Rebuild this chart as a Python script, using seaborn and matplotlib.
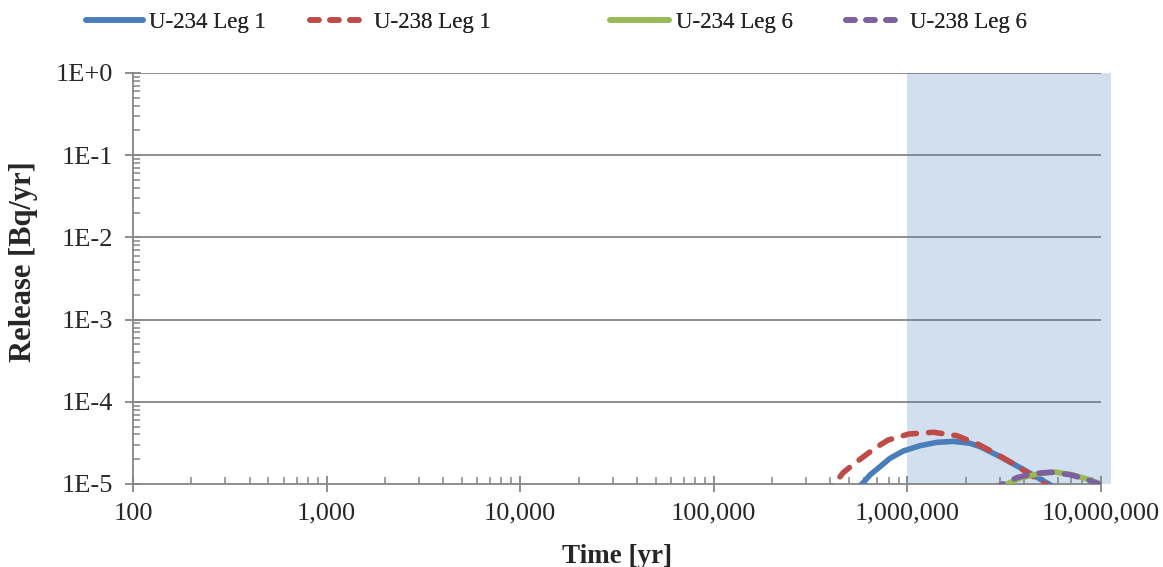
import numpy as np
import pandas as pd
import matplotlib
matplotlib.use("Agg")
import matplotlib.pyplot as plt
import matplotlib.ticker as mticker
from matplotlib.lines import Line2D
import seaborn as sns

# Release curves (time in years, release in Bq/yr)
u234_leg1_t = [4.9e5, 5.83e5, 6.41e5, 7.21e5, 8.12e5, 9.52e5, 1.16e6, 1.42e6, 1.73e6,
               2.10e6, 2.37e6, 3.01e6, 3.82e6, 4.84e6, 5.46e6, 6.3e6]
u234_leg1_r = [7.0e-6, 1.0e-5, 1.29e-5, 1.62e-5, 2.05e-5, 2.52e-5, 2.92e-5, 3.21e-5, 3.30e-5,
               3.13e-5, 2.85e-5, 2.15e-5, 1.58e-5, 1.15e-5, 9.8e-6, 7.8e-6]

u238_leg1_t = [3.6e5, 4.2e5, 4.64e5, 5.26e5, 6.79e5, 7.96e5, 1.02e6, 1.36e6, 1.80e6,
               2.32e6, 2.95e6, 3.74e6, 4.74e6, 5.2e6, 6.0e6]
u238_leg1_r = [7.5e-6, 1.0e-5, 1.36e-5, 1.74e-5, 2.72e-5, 3.43e-5, 4.06e-5, 4.26e-5, 3.87e-5,
               3.04e-5, 2.25e-5, 1.62e-5, 1.12e-5, 9.8e-6, 8.2e-6]

u234_leg6_t = [2.8e6, 3.27e6, 3.82e6, 4.67e6, 5.78e6, 7.16e6, 8.77e6, 1.0e7]
u234_leg6_r = [8.6e-6, 1.0e-5, 1.18e-5, 1.32e-5, 1.4e-5, 1.29e-5, 1.12e-5, 1.0e-5]

u238_leg6_t = [2.7e6, 3.1e6, 3.7e6, 4.5e6, 5.5e6, 6.9e6, 8.5e6, 1.0e7]
u238_leg6_r = [8.6e-6, 1.0e-5, 1.2e-5, 1.34e-5, 1.39e-5, 1.3e-5, 1.13e-5, 9.8e-6]

series_names = ["U-234 Leg 1", "U-238 Leg 1", "U-234 Leg 6", "U-238 Leg 6"]
series_colors = ["#4A7EBB", "#BE4B48", "#98B954", "#7D60A0"]
series_dashed = [False, True, False, True]

x_ticks = [1e2, 1e3, 1e4, 1e5, 1e6, 1e7]
x_tick_labels = ["100", "1,000", "10,000", "100,000", "1,000,000", "10,000,000"]
y_ticks = [1e-5, 1e-4, 1e-3, 1e-2, 1e-1, 1e0]
y_tick_labels = ["1E-5", "1E-4", "1E-3", "1E-2", "1E-1", "1E+0"]

shade_start, shade_end = 1e6, 1.13e7

frames = []
for name, t, r in zip(series_names,
                      [u234_leg1_t, u238_leg1_t, u234_leg6_t, u238_leg6_t],
                      [u234_leg1_r, u238_leg1_r, u234_leg6_r, u238_leg6_r]):
    frames.append(pd.DataFrame({"Time": t, "Release": r, "Series": name}))
df = pd.concat(frames, ignore_index=True)

sns.set_style("white")
plt.rcParams["font.family"] = ["Liberation Serif", "DejaVu Serif"]
plt.rcParams["font.size"] = 19

W, H = 11.63, 5.67
fig = plt.figure(figsize=(W, H), dpi=100)
ax = fig.add_axes([0.1144, 0.1464, 0.8323, 0.7249])

grid_gray = "#868686"
ax.set_xscale("log")
ax.set_yscale("log")
ax.set_xlim(1e2, 1e7)
ax.set_ylim(1e-5, 1e0)

for yv in y_ticks[1:]:
    ax.axhline(yv, color=grid_gray, lw=1.3, zorder=1)

# Shaded time window, drawn over the gridlines
ax.axvspan(shade_start, shade_end, ymin=0, ymax=1, color="#4F81BD", alpha=0.25,
           lw=0, zorder=2, clip_on=False)

PLOT_DASH = [2.4, 2.2]
LEGEND_DASH = [1.6, 2.0]
palette = dict(zip(series_names, series_colors))
sns.lineplot(data=df, x="Time", y="Release", hue="Series", palette=palette,
             hue_order=series_names, sort=False, estimator=None, ax=ax,
             legend=False, zorder=3, lw=4)
for line, dashed in zip(ax.get_lines()[-4:], series_dashed):
    line.set_solid_capstyle("round")
    line.set_dash_capstyle("round")
    line.set_solid_joinstyle("round")
    if dashed:
        line.set_dashes(PLOT_DASH)

for side in ["top", "right"]:
    ax.spines[side].set_visible(False)
for side in ["left", "bottom"]:
    ax.spines[side].set_color(grid_gray)
    ax.spines[side].set_linewidth(1.3)
    ax.spines[side].set_zorder(2.5)

ax.set_xticks(x_ticks)
ax.set_xticklabels(x_tick_labels)
ax.set_yticks(y_ticks)
ax.set_yticklabels(y_tick_labels)
ax.xaxis.set_minor_locator(mticker.LogLocator(base=10, subs=np.arange(2, 10)))
ax.yaxis.set_minor_locator(mticker.LogLocator(base=10, subs=np.arange(2, 10)))
ax.xaxis.set_minor_formatter(mticker.NullFormatter())
ax.yaxis.set_minor_formatter(mticker.NullFormatter())
ax.tick_params(axis="both", which="both", bottom=True, left=True, top=False, right=False)
ax.tick_params(axis="both", which="major", direction="inout", length=11, width=1.3,
               color=grid_gray, labelsize=19)
ax.tick_params(axis="both", which="minor", direction="in", length=5, width=1.1,
               color=grid_gray)
ax.tick_params(axis="x", which="major", pad=8)
ax.tick_params(axis="y", which="major", pad=9)

ax.set_xlabel("Time [yr]", fontsize=19.5, fontweight="bold", labelpad=14)
ax.set_ylabel("Release [Bq/yr]", fontsize=22, fontweight="bold")
ax.yaxis.set_label_coords(-0.098, 0.54)

# Legend row: one entry per series, placed along the top edge
LEG_FS = 16.5
fs_px = LEG_FS * 100 / 72
legend_x = [86, 310, 610, 846]
handle_px = [57, 50, 59, 50]
text_gap_px = [6, 14, 7, 14]
for name, c, dashed, x0, hl, gap in zip(series_names, series_colors, series_dashed,
                                        legend_x, handle_px, text_gap_px):
    h = Line2D([], [], color=c, lw=4, solid_capstyle="round", dash_capstyle="round")
    if dashed:
        h.set_dashes(LEGEND_DASH)
    leg = fig.legend(handles=[h], labels=[name], loc="center left",
                     bbox_to_anchor=(x0 / (W * 100), 1 - 22 / (H * 100)),
                     frameon=False, fontsize=LEG_FS, borderpad=0, borderaxespad=0,
                     handlelength=hl / fs_px, handletextpad=gap / fs_px)
    fig.add_artist(leg)

fig.savefig("out.png", dpi=100)
